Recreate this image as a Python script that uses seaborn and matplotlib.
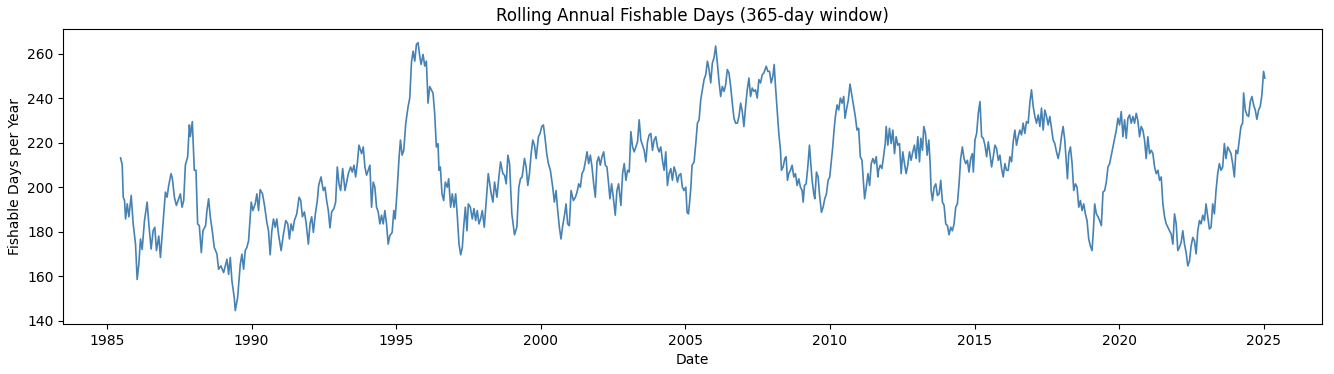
import numpy as np
import pandas as pd
import seaborn as sns
import matplotlib.pyplot as plt

# decimal years and rolling 365-day fishable-day counts
years_a = [1985.473, 1985.530, 1985.565, 1985.611, 1985.645, 1985.703, 1985.760, 1985.840, 1985.909, 1985.990,
           1986.047, 1986.105, 1986.162, 1986.220, 1986.300, 1986.392, 1986.450, 1986.530, 1986.599, 1986.657,
           1986.714, 1986.794, 1986.852, 1986.921, 1987.024, 1987.082, 1987.139, 1987.220, 1987.266, 1987.335,
           1987.404, 1987.484, 1987.542, 1987.599, 1987.657, 1987.714, 1987.794, 1987.852, 1987.886, 1987.955,
           1988.024, 1988.082, 1988.139, 1988.197, 1988.266, 1988.323, 1988.415, 1988.461, 1988.519, 1988.576,
           1988.645, 1988.714, 1988.806, 1988.863, 1988.944, 1989.036, 1989.093, 1989.151, 1989.208, 1989.266,
           1989.323, 1989.404, 1989.438, 1989.519, 1989.611, 1989.668, 1989.726, 1989.783, 1989.841, 1989.898,
           1989.956, 1989.990, 1990.048, 1990.128, 1990.186, 1990.243, 1990.300, 1990.381, 1990.450, 1990.530,
           1990.588, 1990.645, 1990.703, 1990.760, 1990.818, 1990.875, 1990.933, 1991.025, 1991.105, 1991.186,
           1991.255, 1991.312, 1991.369, 1991.427, 1991.484, 1991.565, 1991.645, 1991.703, 1991.760, 1991.829,
           1991.887, 1991.967, 1992.025, 1992.082, 1992.140, 1992.209, 1992.277, 1992.323, 1992.404, 1992.484,
           1992.542, 1992.599, 1992.657, 1992.714, 1992.772, 1992.852, 1992.910, 1992.967, 1993.025, 1993.082,
           1993.151, 1993.232, 1993.289, 1993.346, 1993.427, 1993.484, 1993.542, 1993.599, 1993.657, 1993.714]
days_a = [213.2, 210, 195.5, 194, 185.7, 192.5, 186.7, 196.3, 183.5, 174.4,
          158.5, 165.4, 176.7, 172, 185, 193.3, 183.5, 172.2, 180.4, 182,
          171.5, 178, 168.4, 180.4, 197.8, 195.5, 200.8, 206.1, 203.8, 195.5,
          191.8, 194.8, 197, 191, 194, 209.9, 213.7, 228, 222.8, 229.5,
          207.6, 207.6, 183.5, 182.7, 170.6, 180.4, 182.7, 189.5, 194.8, 186.7,
          180.4, 172.9, 170, 163.1, 164.6, 161.6, 164.6, 167.6, 160.8, 168.4,
          157.8, 150.3, 144.5, 150.3, 165.3, 169.9, 163.1, 171.5, 173, 175.9,
          186.7, 193.3, 189.5, 192.5, 197, 189.5, 198.9, 197, 191.8, 184.2,
          180.4, 169.6, 180.4, 185.7, 182, 185.7, 178.9, 171.5, 178.9, 185,
          183.5, 176.7, 183.5, 180.4, 185, 188, 195.5, 194, 186.7, 188.9,
          184.2, 174.4, 183.5, 186.7, 179.7, 188, 194, 200.8, 204.6, 198.5,
          200, 194, 189.5, 181.7, 188.9, 190.4, 193.3, 209.1, 201.5, 198.5,
          208.4, 198.5, 202.3, 206.1, 209.1, 206.8, 209.9, 204.6, 210.6, 218.9]

years_b = [1993.805, 1993.863, 1993.920, 1993.978, 1994.035, 1994.093, 1994.150, 1994.208, 1994.265, 1994.323,
           1994.380, 1994.438, 1994.495, 1994.553, 1994.610, 1994.668, 1994.725, 1994.782, 1994.863, 1994.920,
           1994.966, 1995.035, 1995.104, 1995.150, 1995.208, 1995.265, 1995.334, 1995.415, 1995.472, 1995.530,
           1995.587, 1995.645, 1995.702, 1995.759, 1995.817, 1995.863, 1995.932, 1995.989, 1996.047, 1996.104,
           1996.162, 1996.219, 1996.277, 1996.334, 1996.392, 1996.449, 1996.484, 1996.530, 1996.587, 1996.645,
           1996.702, 1996.771, 1996.817, 1996.886, 1996.943, 1997.001, 1997.058, 1997.116, 1997.173, 1997.231,
           1997.288, 1997.334, 1997.392, 1997.449, 1997.495, 1997.564, 1997.633, 1997.691, 1997.748, 1997.805,
           1997.863, 1997.920, 1997.978, 1998.047, 1998.116, 1998.185, 1998.288, 1998.346, 1998.403, 1998.484,
           1998.553, 1998.610, 1998.691, 1998.748, 1998.806, 1998.863, 1998.921, 1999.001, 1999.093, 1999.174,
           1999.242, 1999.300, 1999.357, 1999.438, 1999.495, 1999.553, 1999.610, 1999.668, 1999.725, 1999.783,
           1999.840, 1999.921, 1999.978, 2000.036, 2000.093, 2000.151, 2000.208, 2000.265, 2000.334, 2000.415,
           2000.472, 2000.530, 2000.587, 2000.645, 2000.702, 2000.760, 2000.829, 2000.875, 2000.932, 2000.990,
           2001.047, 2001.128, 2001.197, 2001.254, 2001.311, 2001.369, 2001.426, 2001.484, 2001.541, 2001.599,
           2001.656, 2001.714, 2001.771, 2001.829, 2001.886, 2001.944, 2002.001, 2002.059, 2002.116, 2002.174,
           2002.231, 2002.288, 2002.334, 2002.392, 2002.449, 2002.507, 2002.576, 2002.633, 2002.691]
days_b = [215.1, 218.1, 209.1, 205.4, 207.6, 209.9, 191, 202.3, 200, 191,
          188.9, 183.5, 187.4, 183.5, 189.5, 183.5, 174.4, 178.2, 179.7, 189.5,
          185.7, 198.5, 213.7, 221.2, 214.4, 216.6, 228.8, 236.3, 240.1, 255.9,
          261.2, 256.7, 264.2, 265, 259, 255.2, 259.7, 254.5, 256.7, 237.8,
          245.3, 243.8, 242.3, 233.2, 218.1, 219.6, 207.6, 209.1, 197, 194,
          202.3, 200, 203.8, 191, 197, 191, 197, 186.7, 174.4, 169.6,
          173, 182, 191, 180.4, 192.5, 191, 185.7, 190.4, 185, 189.5,
          183.5, 185.7, 189.5, 182, 194, 206.1, 197, 193.3, 202.3, 195.5,
          204.6, 211.4, 206.1, 205.4, 201.5, 214.4, 210.6, 188, 178.6, 182,
          200, 203.8, 204.6, 212.9, 209.1, 200.8, 206.1, 215.1, 221.2, 218.9,
          212.9, 222.7, 224.2, 227.3, 228, 222, 215.1, 210.6, 207.6, 200,
          193.3, 198.5, 189.5, 182, 176.7, 182.7, 188, 192.5, 183.5, 182.7,
          198.5, 194, 195.5, 197.8, 201.5, 200, 206.1, 207.6, 211.4, 215.9,
          210.6, 214.4, 209.1, 201.5, 195.5, 211.4, 213.7, 209.9, 213.7, 215.9,
          209.9, 209.1, 203.1, 194.8, 201.5, 195.5, 187.4, 198.5, 201.5]

years_c = [2002.771, 2002.829, 2002.886, 2002.944, 2003.001, 2003.059, 2003.116, 2003.174, 2003.231, 2003.289,
           2003.346, 2003.404, 2003.461, 2003.519, 2003.576, 2003.634, 2003.691, 2003.748, 2003.806, 2003.863,
           2003.921, 2003.978, 2004.036, 2004.093, 2004.151, 2004.208, 2004.266, 2004.323, 2004.381, 2004.438,
           2004.496, 2004.553, 2004.611, 2004.668, 2004.726, 2004.783, 2004.841, 2004.898, 2004.955, 2005.013,
           2005.059, 2005.105, 2005.151, 2005.185, 2005.231, 2005.300, 2005.358, 2005.415, 2005.473, 2005.530,
           2005.588, 2005.645, 2005.703, 2005.760, 2005.818, 2005.875, 2005.933, 2005.990, 2006.047, 2006.105,
           2006.162, 2006.220, 2006.277, 2006.335, 2006.392, 2006.450, 2006.507, 2006.565, 2006.622, 2006.680,
           2006.737, 2006.795, 2006.852, 2006.910, 2006.967, 2007.024, 2007.082, 2007.139, 2007.197, 2007.254,
           2007.312, 2007.369, 2007.427, 2007.484, 2007.542, 2007.599, 2007.657, 2007.714, 2007.795, 2007.852,
           2007.910, 2007.967, 2008.025, 2008.071, 2008.117, 2008.174, 2008.231, 2008.289, 2008.323, 2008.381,
           2008.438, 2008.484, 2008.530, 2008.576, 2008.634, 2008.691, 2008.749, 2008.806, 2008.864, 2008.921,
           2008.979, 2009.036, 2009.071, 2009.117, 2009.174, 2009.231, 2009.289, 2009.335, 2009.381, 2009.438,
           2009.473, 2009.530, 2009.588, 2009.634, 2009.703, 2009.760, 2009.818, 2009.875, 2009.933, 2009.990,
           2010.036, 2010.094, 2010.140, 2010.186, 2010.243, 2010.300, 2010.358, 2010.415, 2010.473, 2010.519,
           2010.576, 2010.634, 2010.691, 2010.760, 2010.818, 2010.875, 2010.933, 2010.990, 2011.048, 2011.105,
           2011.163, 2011.197, 2011.254, 2011.312, 2011.369, 2011.427, 2011.484, 2011.542, 2011.599, 2011.657]
days_c = [191.8, 206.1, 210.6, 203.1, 207.6, 206.8, 225, 218.1, 215.9, 218.1,
          220.4, 230.3, 221.2, 218.9, 216.6, 211.4, 220.4, 223.5, 224.2, 216.6,
          221.2, 222.7, 218.1, 215.9, 218.1, 212.1, 207.6, 215.9, 200.8, 206.1,
          208.4, 203.1, 209.1, 206.8, 202.3, 205.4, 206.1, 200, 198.5, 200,
          188.7, 188, 194, 199.3, 209.9, 211.4, 219.6, 228.8, 230.3, 239.3,
          243.8, 248.4, 250.6, 256.7, 252.9, 246.9, 255.9, 258.2, 263.5, 255.9,
          247.6, 240.8, 245.3, 243.1, 246.1, 252.9, 251.4, 245.3, 237.8, 231,
          228.8, 228.8, 231.8, 237.8, 234, 227.3, 236.3, 243.8, 249.1, 240.8,
          244.6, 243.1, 243.8, 240.1, 248.4, 246.9, 250.6, 251.4, 254.4, 252.1,
          252.1, 246.9, 249.9, 255.2, 245.3, 234.7, 224.2, 216.6, 207.6, 209.1,
          212.9, 213.7, 203.1, 206.1, 207.6, 209.9, 204.6, 206.1, 200.8, 203.8,
          200, 198.5, 193.3, 200.8, 201.5, 209.1, 218.9, 210.6, 203.1, 197,
          194.8, 206.8, 204.6, 197, 188.7, 191, 194.8, 197, 203.1, 204.6,
          210.6, 218.1, 225.7, 231.8, 237, 234.7, 240.1, 237.8, 240.8, 231,
          235.4, 239.3, 246.4, 240.8, 236.3, 231.8, 225.7, 226.5, 213.7, 212.1,
          201.5, 194.8, 200, 206.1, 200.8, 210.6, 212.9, 210.6, 213.7, 204.6]

years_d = [2011.679, 2011.736, 2011.794, 2011.851, 2011.909, 2011.943, 2012.001, 2012.058, 2012.116, 2012.173,
           2012.231, 2012.288, 2012.346, 2012.403, 2012.461, 2012.518, 2012.576, 2012.633, 2012.690, 2012.748,
           2012.805, 2012.863, 2012.920, 2012.978, 2013.035, 2013.093, 2013.139, 2013.196, 2013.242, 2013.300,
           2013.357, 2013.415, 2013.461, 2013.495, 2013.541, 2013.599, 2013.656, 2013.713, 2013.771, 2013.828,
           2013.886, 2013.943, 2014.001, 2014.058, 2014.116, 2014.173, 2014.231, 2014.288, 2014.346, 2014.403,
           2014.461, 2014.518, 2014.576, 2014.633, 2014.690, 2014.748, 2014.805, 2014.863, 2014.920, 2014.955,
           2015.012, 2015.070, 2015.127, 2015.185, 2015.242, 2015.300, 2015.357, 2015.415, 2015.472, 2015.530,
           2015.587, 2015.645, 2015.702, 2015.759, 2015.817, 2015.874, 2015.932, 2015.989, 2016.047, 2016.104,
           2016.162, 2016.219, 2016.277, 2016.334, 2016.392, 2016.449, 2016.507, 2016.564, 2016.622, 2016.679,
           2016.737, 2016.794, 2016.852, 2016.909, 2016.967, 2017.024, 2017.082, 2017.139, 2017.197, 2017.254,
           2017.311, 2017.369, 2017.426, 2017.484, 2017.541, 2017.599, 2017.656, 2017.714, 2017.771, 2017.829,
           2017.886, 2017.944, 2018.001, 2018.059, 2018.116, 2018.174, 2018.208, 2018.254, 2018.311, 2018.369,
           2018.426, 2018.484, 2018.541, 2018.599, 2018.656, 2018.714, 2018.771, 2018.829, 2018.886, 2018.944,
           2019.001, 2019.059, 2019.105, 2019.151, 2019.208, 2019.266, 2019.323, 2019.381, 2019.438, 2019.496,
           2019.553, 2019.610, 2019.668, 2019.725, 2019.783, 2019.840, 2019.898, 2019.955, 2020.013, 2020.070,
           2020.128, 2020.185, 2020.243, 2020.300, 2020.358, 2020.415, 2020.472, 2020.530, 2020.587]
days_d = [207.6, 209.9, 208.4, 213.7, 219.6, 227.3, 218.9, 226.5, 219.6, 225.7,
          215.1, 222.7, 218.9, 219.6, 206.1, 215.9, 210.6, 206.1, 209.9, 215.9,
          212.1, 215.9, 218.9, 212.9, 222.7, 211.4, 222, 216.6, 227.3, 224.2,
          214.4, 221.2, 210.6, 198.5, 194, 200, 201.5, 196.3, 197, 203.1,
          193.3, 191.8, 183.5, 182.7, 178.6, 182, 180.4, 183.5, 191, 192.5,
          201.5, 212.9, 218.1, 212.9, 210.6, 212.1, 206.8, 212.9, 215.1, 206.8,
          221.2, 224.2, 233.2, 238.5, 222.7, 222, 218.9, 213.7, 220.4, 215.1,
          209.1, 213.7, 218.9, 217.4, 212.1, 214.4, 208.4, 204.6, 210.6, 207.6,
          207.6, 213.7, 211.4, 220.4, 225.7, 218.9, 222.7, 225.7, 223.5, 228.8,
          224.2, 229.5, 228.8, 237.8, 243.8, 236.3, 231.8, 228.8, 232.5, 227.3,
          235.6, 225.7, 234.7, 231.8, 228, 231.8, 226.5, 221.2, 219.6, 215.9,
          212.9, 216.6, 222.7, 227.3, 221.2, 210.6, 203.8, 215.1, 218.1, 210.6,
          198.5, 201.5, 200, 191, 194, 189.5, 192.5, 188, 185, 176.7,
          173.6, 171.5, 180.4, 192.5, 188, 186.7, 185, 182.7, 197.8, 198.5,
          202.3, 209.1, 210.6, 214.4, 218.1, 222, 225.7, 231, 228, 234,
          222.7, 230.3, 222, 231, 232.5, 228.8, 231.8, 228.8, 233.2]

years_e = [2020.645, 2020.702, 2020.760, 2020.817, 2020.875, 2020.932, 2020.990, 2021.047, 2021.105, 2021.162,
           2021.220, 2021.277, 2021.335, 2021.392, 2021.450, 2021.507, 2021.565, 2021.622, 2021.680, 2021.737,
           2021.795, 2021.852, 2021.909, 2021.967, 2022.024, 2022.082, 2022.139, 2022.197, 2022.254, 2022.312,
           2022.369, 2022.427, 2022.484, 2022.542, 2022.599, 2022.657, 2022.714, 2022.772, 2022.829, 2022.886,
           2022.944, 2023.001, 2023.059, 2023.116, 2023.174, 2023.231, 2023.289, 2023.346, 2023.404, 2023.461,
           2023.519, 2023.576, 2023.634, 2023.691, 2023.749, 2023.806, 2023.864, 2023.921, 2023.979, 2024.036,
           2024.093, 2024.151, 2024.208, 2024.266, 2024.300, 2024.358, 2024.415, 2024.473, 2024.530, 2024.588,
           2024.645, 2024.703, 2024.760, 2024.818, 2024.875, 2024.932, 2024.990, 2025.030]
days_e = [230, 222.7, 227.3, 225.7, 221.2, 212.9, 222.7, 215.1, 216.6, 215.1,
          209.1, 206.1, 207.6, 203.1, 204.6, 192.5, 186.7, 183.5, 182, 180.4,
          178.9, 174.4, 188, 183.5, 171.5, 173, 175.1, 180.4, 174.4, 170.6,
          164.6, 166.8, 173.6, 177.4, 175.9, 170, 180.4, 185, 183.5, 187.4,
          185, 192.5, 186.7, 181.2, 182, 192.5, 188, 198.5, 206.1, 210.6,
          207.6, 209.1, 219.6, 212.9, 218.1, 216.6, 215.1, 210.6, 204.6, 216.6,
          215.1, 221.2, 227.3, 228.8, 242.4, 234.7, 232.5, 231.8, 238.5, 240.8,
          237, 234.7, 230.5, 234.7, 236.3, 241.5, 252.1, 249.1]

years = years_a + years_b + years_c + years_d + years_e
days = days_a + days_b + days_c + days_d + days_e


def to_date(y):
    base = pd.Timestamp(int(y), 1, 1)
    return base + pd.Timedelta(days=(y - int(y)) * 365.25)


df = pd.DataFrame({"Date": [to_date(y) for y in years], "Fishable": days})

fig, ax = plt.subplots(figsize=(13.34, 3.74), dpi=100)
fig.subplots_adjust(left=0.0475, right=0.991, top=0.9217, bottom=0.1337)

sns.lineplot(data=df, x="Date", y="Fishable", ax=ax, color="steelblue", linewidth=1.2)

ax.set_title("Rolling Annual Fishable Days (365-day window)")
ax.set_xlabel("Date")
ax.set_ylabel("Fishable Days per Year")

plt.savefig("out.png", dpi=100)
